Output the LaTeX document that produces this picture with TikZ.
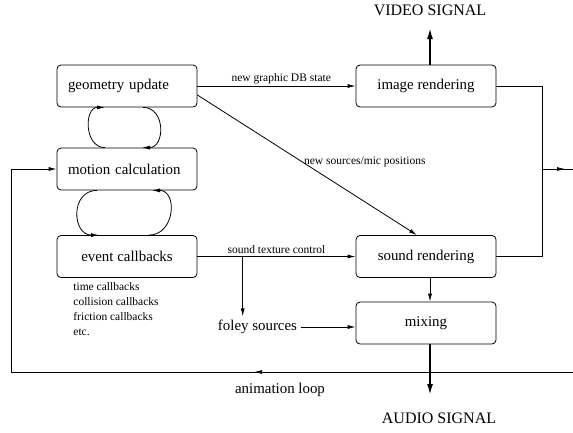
\documentclass[tikz,border=0pt]{standalone}
\usepackage{fontspec}
\setmainfont{Liberation Serif}
\usetikzlibrary{arrows.meta}

\newcommand{\bigfont}{\fontsize{14.9}{18}\selectfont}
\newcommand{\smallfont}{\fontsize{11.5}{15}\selectfont}
\newcommand{\sigfont}{\fontsize{16}{19}\selectfont}

\begin{document}
\begin{tikzpicture}[x=1pt, y=-1pt, line width=0.8pt,
        box/.style={draw, rounded corners=4pt, minimum width=140pt, minimum height=42pt, font=\bigfont},
        lbox/.style={box, text width=118pt, inner xsep=11pt, align=left},
        lbl/.style={font=\smallfont, inner sep=2pt},
        arr/.style={-{Latex[length=8pt,width=4pt]}},
        sig/.style={line width=1.8pt, -{Latex[length=11pt,width=6pt]}}]
    \useasboundingbox (0,0) rectangle (573,432);

    \node[lbox] (geo) at (127,86) {geometry update};
    \node[lbox] (mot) at (127,169) {motion calculation};
    \node[box] (ev) at (127,256.5) {event callbacks};
    \node[box] (img) at (426,86) {image rendering};
    \node[box] (snd) at (426,256.5) {sound rendering};
    \node[box] (mix) at (426,323) {mixing};

    \node[font=\bigfont] (foley) at (257.5,327) {foley sources};
    \node[font=\smallfont, align=left, anchor=base west, inner sep=0pt] (cbl) at (73,335)
        {time callbacks\\collision callbacks\\friction callbacks\\etc.};
    \node[font=\sigfont] (video) at (430,10) {VIDEO SIGNAL};
    \node[font=\sigfont] (audio) at (439,418) {AUDIO SIGNAL};
    \node[font=\bigfont] (anim) at (280,390) {animation loop};

    \coordinate (split) at (242.7,256.5);
    \coordinate (rbus) at (542.3,169);
    \coordinate (rout) at (565,169);
    \coordinate (redge) at (573,169);
    \coordinate (vtip) at (430,28);
    \coordinate (atip) at (430,395);
    \coordinate (aright) at (573,372);
    \coordinate (aleft) at (11,372);
    \coordinate (amid) at (254,372);

    % loops between the simulation stages
    \draw[arr] ([xshift=-22pt]mot.north) .. controls +(-21,0) and +(-21,0) .. ([xshift=-22pt]geo.south);
    \draw[arr] ([xshift=16pt]geo.south) .. controls +(23,0) and +(23,0) .. ([xshift=15pt]mot.north);
    \draw[arr] ([xshift=-30pt]mot.south) .. controls +(-27,0) and +(-27,0) .. ([xshift=-28pt]ev.north);
    \draw[arr] ([xshift=22pt]ev.north) .. controls +(26,0) and +(26,0) .. ([xshift=25pt]mot.south);

    \draw[arr] (geo.east) -- node[lbl, above, pos=0.53] (lgraph) {new graphic DB state} (img.west);
    \draw[arr] ([yshift=-9pt]geo.east) -- node[lbl, right, pos=0.475] (lsrc) {new sources/mic positions} ([xshift=-9pt]snd.north);
    \draw[arr] (ev.east) -- node[lbl, above] (ltex) {sound texture control} (snd.west);
    \draw[arr] (split) -- (split |- foley.north);
    \draw[arr] (foley.east) -- (foley.east -| mix.west);
    \draw[arr] ([xshift=4pt]snd.south) -- ([xshift=4pt]mix.north);

    % outputs
    \draw[sig] ([xshift=4pt]img.north) -- (vtip);
    \draw[sig] ([xshift=4pt]mix.south) -- (atip);
    \draw (img.east) -| (rbus) |- (snd.east);
    \draw (rbus) -- (redge);
    \draw[arr] (rbus) -- (rout);

    % animation loop
    \draw[arr] (aright) -- (aleft) |- (mot.west);
    \draw[arr] (aright) -- (amid);
\end{tikzpicture}
\end{document}
